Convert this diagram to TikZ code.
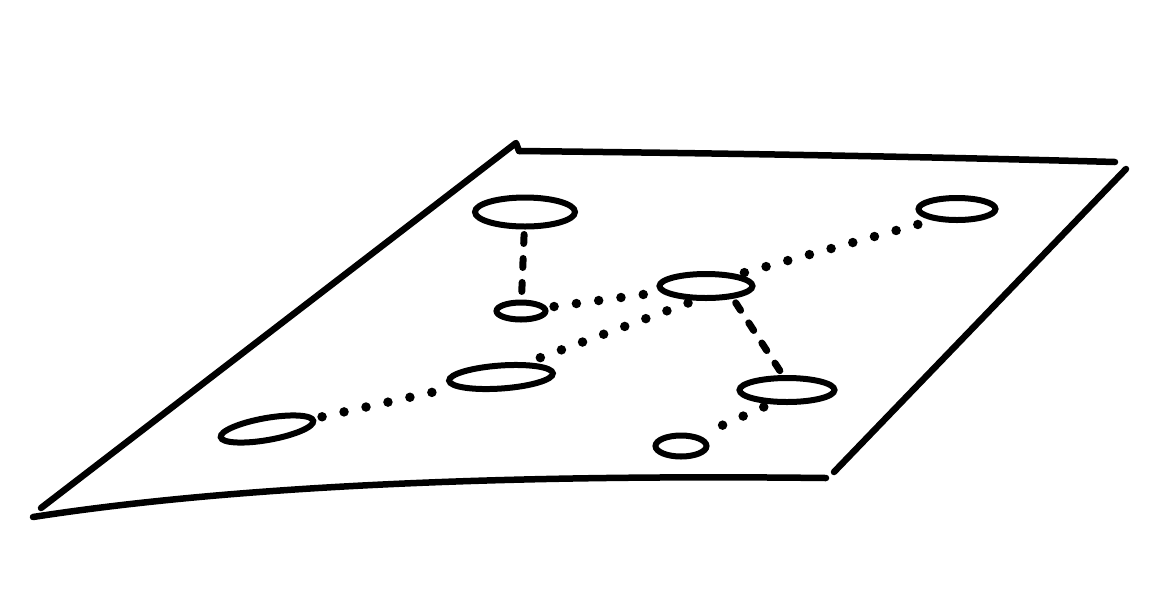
\documentclass[tikz,border=0pt]{standalone}
\usetikzlibrary{shapes.geometric}
\begin{document}
\begin{tikzpicture}[x=0.02cm,y=-0.02cm,
  edge/.style={line width=0.13cm,line cap=round,line join=round},
  spot/.style={ellipse,draw,line width=0.12cm,inner sep=0pt},
  dotline/.style={line width=0.19cm,line cap=round,dash pattern=on 0pt off 0.45cm,shorten <=0.14cm,shorten >=0.12cm},
  dashline/.style={line width=0.14cm,line cap=round,dash pattern=on 0.18cm off 0.3cm,shorten <=0.1cm,shorten >=0.1cm}]
\useasboundingbox (0,0) rectangle (1164,600);
% plane
\coordinate (tl) at (516,143);
\coordinate (tr) at (1115,162);
\coordinate (rt) at (1126,169);
\coordinate (br) at (834,472);
\coordinate (bl) at (33,517);
\coordinate (bm) at (826,478);
\coordinate (lb) at (41,508);
\draw[edge] (lb) -- (tl) -- (519,151);
\draw[edge] (519,151) .. controls (700,153) and (900,156) .. (tr);
\draw[edge] (rt) -- (br);
\draw[edge] (bl) .. controls (220,488) and (480,474) .. (bm);
% spots
\node[spot,minimum width=2.0cm,minimum height=0.58cm] (n1) at (525,212) {};
\node[spot,minimum width=1.54cm,minimum height=0.44cm] (n2) at (957,209) {};
\node[spot,minimum width=1.86cm,minimum height=0.48cm] (n3) at (706,286) {};
\node[spot,minimum width=0.98cm,minimum height=0.34cm] (n4) at (521,311) {};
\node[spot,minimum width=2.08cm,minimum height=0.46cm,rotate=4] (n5) at (501,377) {};
\node[spot,minimum width=1.88cm,minimum height=0.44cm,rotate=10] (n6) at (267,429) {};
\node[spot,minimum width=1.9cm,minimum height=0.48cm] (n7) at (787,390) {};
\node[spot,minimum width=1.02cm,minimum height=0.42cm] (n8) at (681,446) {};
% connectors
\draw[dashline] (n1) -- (n4);
\draw[dotline] (n4) -- (n3);
\draw[dotline] (n3.20) -- (n2.205);
\draw[dotline] (n3.232) -- (n5.25);
\draw[dotline] (n6) -- (n5);
\draw[dashline] (n3.-25) -- (n7.106);
\draw[dotline] (n7.-140) -- (n8.30);
\end{tikzpicture}
\end{document}
